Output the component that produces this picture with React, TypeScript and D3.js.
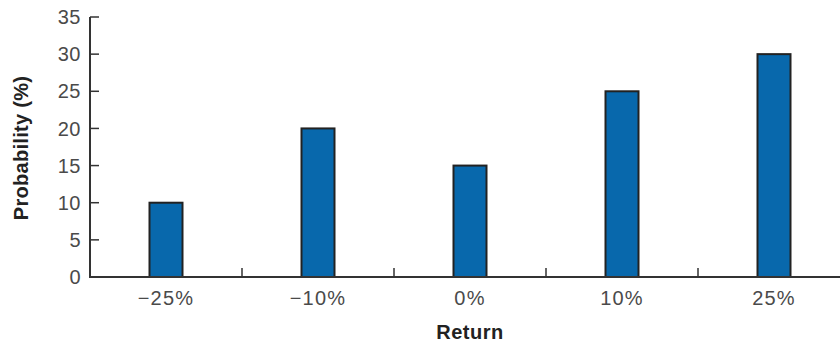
import React from "react";
import * as d3 from "d3";

const categories = ["−25%", "−10%", "0%", "10%", "25%"];
const probabilities = [10, 20, 15, 25, 30];
const yTicks = [0, 5, 10, 15, 20, 25, 30, 35];
const yTitle = "Probability (%)";
const xTitle = "Return";

const W = 840;
const H = 345;
const left = 90;
const top = 17;
const bottom = 277;

export default function App() {
  const x = d3.scaleBand<string>().domain(categories).range([left, left + 152 * 5]).paddingInner(0).paddingOuter(0);
  const y = d3.scaleLinear().domain([0, 35]).range([bottom, top]);
  const barW = 33;
  const font = "'Liberation Sans', Arial, Helvetica, sans-serif";
  const boundaries = categories.slice(1).map((c) => x(c)!);
  return (
    <svg width={W} height={H} style={{ position: "absolute", left: 0, top: 0 }} fontFamily={font}>
      {probabilities.map((v, i) => {
        const cx = x(categories[i])! + x.bandwidth() / 2;
        return (
          <rect key={i} x={cx - barW / 2} y={y(v)} width={barW} height={y(0) - y(v)}
            fill="#0868ac" stroke="#222" strokeWidth={2} />
        );
      })}
      {/* y axis */}
      <line x1={left} x2={left} y1={y(35)} y2={y(0)} stroke="#333" strokeWidth={2} />
      {yTicks.map((t) => (
        <g key={t}>
          <line x1={left} x2={left + 9} y1={y(t)} y2={y(t)} stroke="#333" strokeWidth={1.5} />
          <text x={81} y={y(t)} dy="0.36em" textAnchor="end" fontSize={20} letterSpacing={0.5} fill="#4a4a4a">{t}</text>
        </g>
      ))}
      {/* x axis */}
      <line x1={left - 1} x2={W} y1={y(0)} y2={y(0)} stroke="#333" strokeWidth={2} />
      {boundaries.map((bx, i) => (
        <line key={i} x1={bx} x2={bx} y1={y(0)} y2={y(0) - 9} stroke="#333" strokeWidth={1.5} />
      ))}
      {categories.map((c) => (
        <text key={c} x={x(c)! + x.bandwidth() / 2} y={305} textAnchor="middle" fontSize={20} letterSpacing={1.2} fill="#4a4a4a">{c}</text>
      ))}
      <text x={x.range()[0] / 2 + x.range()[1] / 2} y={339} textAnchor="middle" fontSize={20} fontWeight="bold" letterSpacing={0.5} fill="#222">{xTitle}</text>
      <text transform={`translate(28,148) rotate(-90)`} textAnchor="middle" fontSize={20} fontWeight="bold" letterSpacing={0.3} fill="#222">{yTitle}</text>
    </svg>
  );
}
